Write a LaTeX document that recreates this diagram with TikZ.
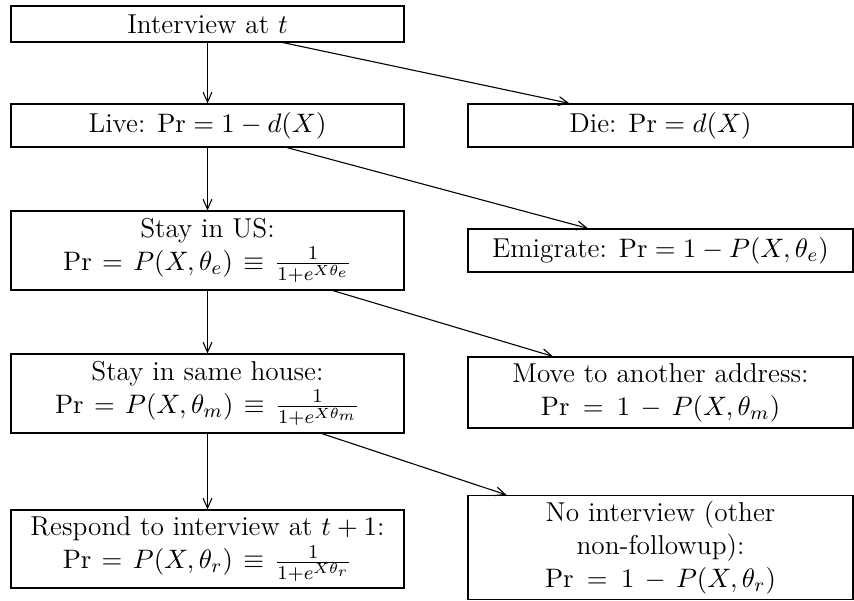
\documentclass[tikz,border=0pt]{standalone}
\usetikzlibrary{arrows.meta,calc}
\newcommand{\wsp}{\thickmuskip=9mu plus 3mu\medmuskip=7mu plus 2mu}
\newcommand{\msp}{\thickmuskip=7mu plus 3mu}
\begin{document}
\begin{tikzpicture}[x=0.41pt,y=-0.41pt,
  every node/.style={font=\fontsize{11.2}{13.6}\selectfont},
  box/.style={draw,line width=0.5pt,rectangle,inner sep=0pt,align=center,anchor=center},
  lbox/.style={box,minimum width=393*0.41pt},
  rbox/.style={box,minimum width=385*0.41pt},
  arr/.style={line width=0.45pt,-{Straight Barb[length=4pt,width=3.6pt,line width=0.45pt]}}]
\useasboundingbox (0,0) rectangle (854,600);
% left column
\node[lbox,minimum height=36*0.41pt] (int) at (207.5,24) {Interview at $t$};
\node[lbox,minimum height=43*0.41pt] (live) at (207.5,125.5) {Live: $\mathrm{Pr} = 1 - d(X)$};
\node[lbox,minimum height=79*0.41pt] (stay) at (207.5,250.5) {Stay in US:\\ $\msp\mathrm{Pr} = P(X,\theta_e) \equiv \frac{1}{1+e^{X\theta_e}}$};
\node[lbox,minimum height=79*0.41pt] (house) at (207.5,393.5) {Stay in same house:\\ $\msp\mathrm{Pr} = P(X,\theta_m) \equiv \frac{1}{1+e^{X\theta_m}}$};
\node[lbox,minimum height=78*0.41pt] (resp) at (207.5,549) {Respond to interview at $t+1$:\\ $\msp\mathrm{Pr} = P(X,\theta_r) \equiv \frac{1}{1+e^{X\theta_r}}$};
% right column
\node[rbox,minimum height=43*0.41pt] (die) at (660.5,125.5) {Die: $\mathrm{Pr} = d(X)$};
\node[rbox,minimum height=43*0.41pt] (emig) at (660.5,250.5) {Emigrate: $\mathrm{Pr} = 1 - P(X,\theta_e)$};
\node[rbox,minimum height=71*0.41pt] (move) at (660.5,392.5) {Move to another address:\\ $\wsp\mathrm{Pr} = 1 - P(X,\theta_m)$};
\node[rbox,minimum height=104*0.41pt] (noint) at (660.5,547.5) {No interview (other\\ non-followup):\\ $\wsp\mathrm{Pr} = 1 - P(X,\theta_r)$};
% vertical arrows
\draw[arr] (int.south) -- (live.north);
\draw[arr] (live.south) -- (stay.north);
\draw[arr] (stay.south) -- (house.north);
\draw[arr] (house.south) -- (resp.north);
% diagonal arrows
\draw[arr] ($(int.south)+(75.5,0)$) -- ($(die.north)+(-91,0)$);
\draw[arr] ($(live.south)+(79.5,0)$) -- ($(emig.north)+(-72.5,0)$);
\draw[arr] ($(stay.south)+(125.5,0)$) -- ($(move.north)+(-107.5,0)$);
\draw[arr] ($(house.south)+(114.5,0)$) -- ($(noint.north)+(-154,0)$);
\end{tikzpicture}
\end{document}
